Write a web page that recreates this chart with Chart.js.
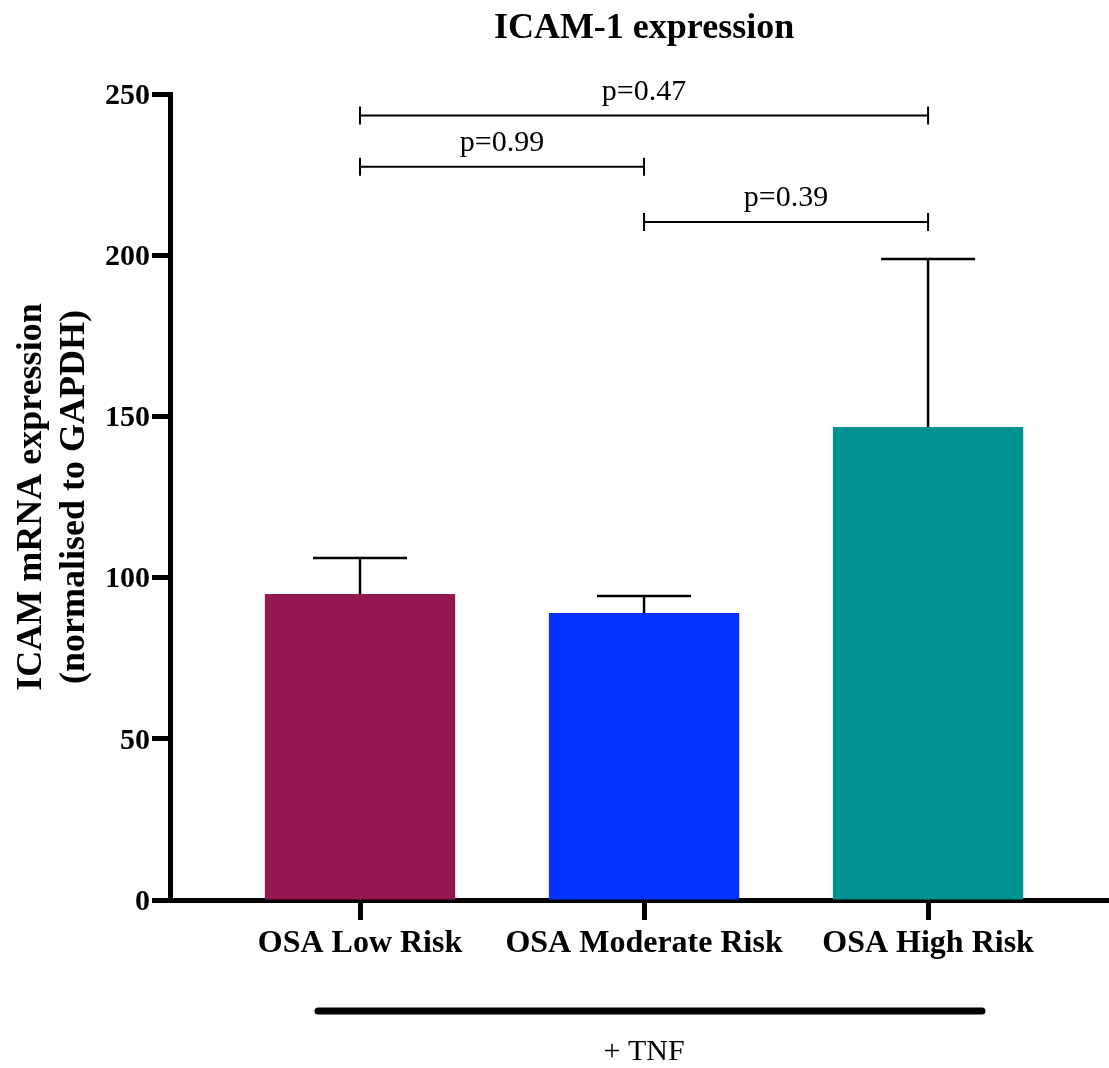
<!DOCTYPE html>
<html>
<head>
<meta charset="utf-8">
<title>ICAM-1 expression</title>
<script src="https://cdn.jsdelivr.net/npm/chart.js@4/dist/chart.umd.min.js"></script>
<style>
    html, body { margin: 0; padding: 0; background: #ffffff; }
    #wrap { width: 1109px; height: 1068px; position: relative; }
</style>
</head>
<body>
<div id="wrap"><canvas id="icamChart"></canvas></div>
<script>
// data
const categories = ['OSA Low Risk', 'OSA Moderate Risk', 'OSA High Risk'];
const meanValues = [94.9, 89.0, 146.7];
const semValues = [11.2, 5.3, 52.1];
const barColors = ['#95174F', '#0433FF', '#009191'];
const yTicks = [0, 50, 100, 150, 200, 250];

// significance brackets (category index from / to, height, label)
const bracketFrom = [1, 1, 2];
const bracketTo = [3, 2, 3];
const bracketHeight = [243.3, 227.4, 210.3];
const bracketLabels = ['p=0.47', 'p=0.99', 'p=0.39'];

const SERIF = "'Liberation Serif', 'Times New Roman', Times, serif";

const annotationsPlugin = {
    id: 'annotations',
    afterDatasetsDraw(chart) {
        const ctx = chart.ctx;
        const x = chart.scales.x;
        const y = chart.scales.y;
        ctx.save();
        ctx.strokeStyle = '#000';
        ctx.fillStyle = '#000';

        // error bars (upper only)
        ctx.lineWidth = 2.5;
        meanValues.forEach((m, i) => {
            const px = x.getPixelForValue(i + 1);
            const top = y.getPixelForValue(m + semValues[i]);
            ctx.beginPath();
            ctx.moveTo(px, y.getPixelForValue(m));
            ctx.lineTo(px, top);
            ctx.moveTo(px - 47, top);
            ctx.lineTo(px + 47, top);
            ctx.stroke();
        });

        // brackets
        ctx.lineWidth = 2;
        ctx.font = '30px ' + SERIF;
        ctx.textAlign = 'center';
        ctx.textBaseline = 'alphabetic';
        bracketLabels.forEach((lbl, i) => {
            const x1 = x.getPixelForValue(bracketFrom[i]);
            const x2 = x.getPixelForValue(bracketTo[i]);
            const py = y.getPixelForValue(bracketHeight[i]);
            ctx.beginPath();
            ctx.moveTo(x1, py);
            ctx.lineTo(x2, py);
            ctx.moveTo(x1, py - 9);
            ctx.lineTo(x1, py + 9);
            ctx.moveTo(x2, py - 9);
            ctx.lineTo(x2, py + 9);
            ctx.stroke();
            ctx.fillText(lbl, (x1 + x2) / 2, py - 16);
        });

        // title
        const mid = (x.getPixelForValue(1) + x.getPixelForValue(3)) / 2;
        ctx.font = 'bold 36px ' + SERIF;
        ctx.textBaseline = 'middle';
        ctx.fillText('ICAM-1 expression', mid, 29);

        // treatment line + label
        ctx.lineWidth = 7;
        ctx.lineCap = 'round';
        ctx.beginPath();
        ctx.moveTo(318, 1011);
        ctx.lineTo(982, 1011);
        ctx.stroke();
        ctx.font = '30px ' + SERIF;
        ctx.fillText('+ TNF', mid, 1052);
        ctx.restore();
    }
};

const ctx = document.getElementById('icamChart').getContext('2d');
new Chart(ctx, {
    type: 'bar',
    data: {
        datasets: [{
            data: categories.map((c, i) => ({ x: i + 1, y: meanValues[i] })),
            backgroundColor: barColors,
            borderWidth: 0,
            barPercentage: 0.67,
            categoryPercentage: 1.0
        }]
    },
    options: {
        responsive: true,
        maintainAspectRatio: false,
        animation: false,
        layout: { padding: { top: 94, right: 0, bottom: 0, left: 0 } },
        plugins: {
            legend: { display: false },
            tooltip: { enabled: false },
            title: { display: false }
        },
        scales: {
            x: {
                type: 'linear',
                min: 0.331,
                max: 3.637,
                offset: false,
                afterFit: (scale) => { scale.height = 168; },
                afterBuildTicks: (scale) => { scale.ticks = categories.map((c, i) => ({ value: i + 1 })); },
                grid: { offset: false, drawOnChartArea: false, drawTicks: true, tickLength: 20, tickWidth: 5, tickColor: '#000' },
                border: { display: true, width: 5, color: '#000' },
                ticks: {
                    autoSkip: false,
                    maxRotation: 0,
                    padding: 5,
                    color: '#000',
                    font: { family: SERIF, size: 32, weight: 'bold' },
                    callback: (v) => categories[v - 1]
                }
            },
            y: {
                min: 0,
                max: 250,
                afterFit: (scale) => { scale.width = 170; },
                afterBuildTicks: (scale) => { scale.ticks = yTicks.map(v => ({ value: v })); },
                grid: { drawOnChartArea: false, drawTicks: true, tickLength: 18, tickWidth: 5, tickColor: '#000' },
                border: { display: true, width: 5, color: '#000' },
                ticks: {
                    padding: 2,
                    labelOffset: 2,
                    color: '#000',
                    font: { family: SERIF, size: 30, weight: 'bold' }
                },
                title: {
                    display: true,
                    text: ['ICAM mRNA expression', '(normalised to GAPDH)'],
                    color: '#000',
                    font: { family: SERIF, size: 36, weight: 'bold', lineHeight: 1.2 },
                    padding: { top: 10, bottom: 0 }
                }
            }
        }
    },
    plugins: [annotationsPlugin]
});
</script>
</body>
</html>
